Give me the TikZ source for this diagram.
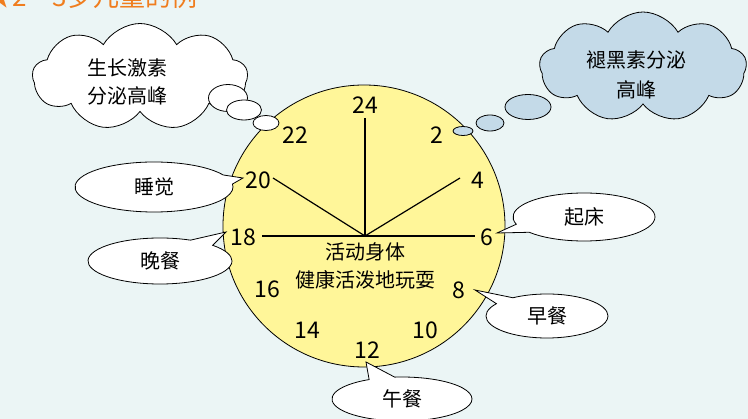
\documentclass[tikz,border=0pt]{standalone}
\usepackage{fontspec}
\setmainfont{Noto Sans CJK SC}
\usetikzlibrary{shapes.geometric,shapes.callouts,shapes.symbols}
\definecolor{bgcol}{RGB}{235,245,245}
\definecolor{clockyellow}{RGB}{255,246,153}
\definecolor{cloudblue}{RGB}{196,218,232}
\definecolor{titleorange}{RGB}{240,125,30}
\begin{document}
\begin{tikzpicture}[x=1pt,y=-1pt,
  num/.style={font=\fontsize{23}{23}\selectfont, inner sep=0pt},
  txt/.style={font=\fontsize{20}{28}\selectfont, align=center, inner sep=0pt},
  bubble/.style={ellipse callout, draw, fill=white, line width=0.8pt, callout pointer arc=22,
    font=\fontsize{20}{24}\selectfont, inner sep=0pt},
  thought/.style={cloud, cloud puffs=9, cloud puff arc=120, draw, line width=0.8pt, inner sep=0pt},
  puff/.style={ellipse, draw, line width=0.8pt, inner sep=0pt}]
\clip (0,0) rectangle (748,419);
\fill[bgcol] (0,0) rectangle (748,419);
\node[anchor=base west, text=titleorange, font=\fontsize{26}{26}\selectfont, inner sep=0pt] (title) at (-14,7) {★2～3岁儿童的例};

% clock face
\node[circle, draw, fill=clockyellow, minimum size=282, line width=0.8pt, inner sep=0pt] (clock) at (364,226) {};

% thought clouds
\node[thought, fill=white, minimum width=215, minimum height=107] (gh) at (140,77) {};
\node[txt] (ghtxt) at (127,82) {生长激素\\分泌高峰};
\node[puff, fill=white, minimum width=39, minimum height=27] (gh1) at (228,98) {};
\node[puff, fill=white, minimum width=35, minimum height=20] (gh2) at (244,110) {};
\node[puff, fill=white, minimum width=26, minimum height=15] (gh3) at (266,123) {};
\node[thought, fill=cloudblue, minimum width=207, minimum height=110] (mel) at (643,67) {};
\node[txt, font=\fontsize{20}{30}\selectfont] (meltxt) at (636,75) {褪黑素分泌\\高峰};
\node[puff, fill=cloudblue, minimum width=46, minimum height=25] (mel1) at (528,107) {};
\node[puff, fill=cloudblue, minimum width=28, minimum height=16] (mel2) at (490,123) {};
\node[puff, fill=cloudblue, minimum width=20, minimum height=9] (mel3) at (463,131) {};

% hours
\node[num] (h24) at (365,105) {24};
\node[num] (h22) at (295,135) {22};
\node[num] (h2) at (437,135) {2};
\node[num] (h20) at (258,180) {20};
\node[num] (h4) at (478,180) {4};
\node[num] (h18) at (243,237) {18};
\node[num] (h6) at (487,237) {6};
\node[num] (h16) at (267,289) {16};
\node[num] (h8) at (459,290) {8};
\node[num] (h14) at (307,330) {14};
\node[num] (h10) at (425,330) {10};
\node[num] (h12) at (367,350) {12};

% hands
\coordinate (hub) at (365,236);
\coordinate (r24) at (365,118);
\coordinate (r20) at (273,178);
\coordinate (r4) at (460,178);
\coordinate (r18) at (262,236);
\coordinate (r6) at (475,236);
\draw[line width=1.2pt] (hub) -- (r24);
\draw[line width=1.2pt] (hub) -- (r20);
\draw[line width=1.2pt] (hub) -- (r4);
\draw[line width=1.2pt] (hub) -- (r18);
\draw[line width=1.2pt] (hub) -- (r6);
\node[txt] (act) at (365,266) {活动身体\\健康活泼地玩耍};

% callouts
\coordinate (p20) at (243,178);
\coordinate (p18) at (226,232);
\coordinate (p6) at (497,233);
\coordinate (p8) at (475,290);
\coordinate (p12) at (366,362);
\node[bubble, minimum width=158, minimum height=50, callout absolute pointer=(p20)] (sleep) at (154,187) {睡觉};
\node[bubble, minimum width=144, minimum height=46, callout absolute pointer=(p18)] (dinner) at (160,261) {晚餐};
\node[bubble, minimum width=142, minimum height=48, callout absolute pointer=(p6)] (wake) at (584,217) {起床};
\node[bubble, minimum width=122, minimum height=44, callout absolute pointer=(p8)] (bfast) at (547,316) {早餐};
\node[bubble, minimum width=140, minimum height=44, callout absolute pointer=(p12)] (lunch) at (402,399) {午餐};
\end{tikzpicture}
\end{document}
